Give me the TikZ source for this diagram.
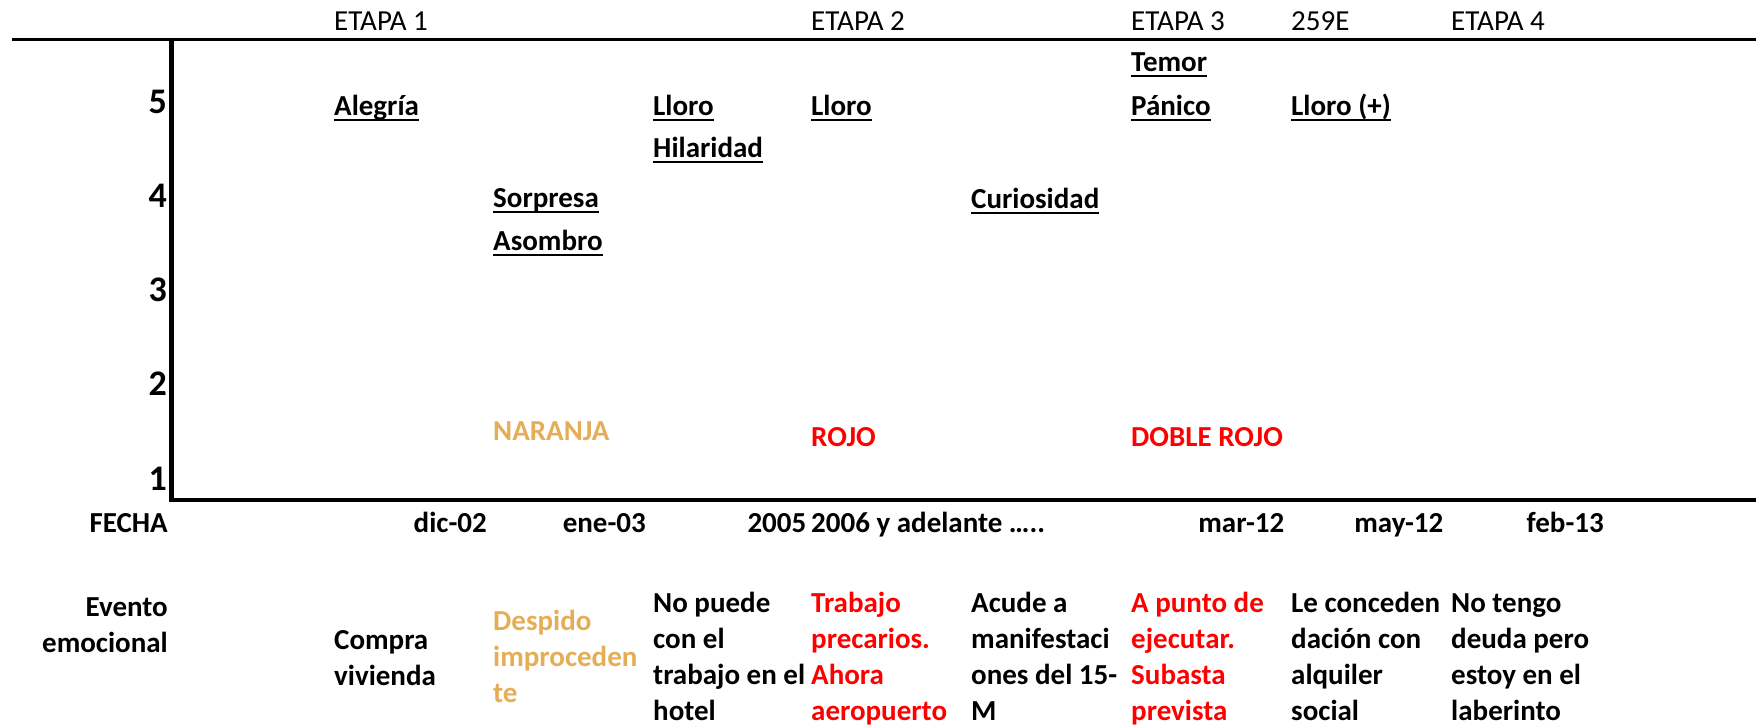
\documentclass[tikz,border=0pt]{standalone}
\usepackage{fontspec}
\setmainfont{Carlito}
\definecolor{naranja}{RGB}{229,173,86}
\definecolor{rojo}{RGB}{255,0,0}
\tikzset{
  celda/.style={inner sep=0pt, anchor=base west, align=left,
    font=\bfseries\fontsize{29}{35.7}\selectfont},
  fecha/.style={celda, anchor=base east},
  etapa/.style={inner sep=0pt, anchor=base west, font=\fontsize{29}{35}\selectfont},
  nivel/.style={inner sep=0pt, anchor=base east, font=\bfseries\fontsize{36}{40}\selectfont},
  subraya/.style={line width=2pt},
  eje/.style={line width=4.8pt},
}
% emocion subrayada: nombre, x, y, texto
\newcommand{\emocion}[4]{%
  \node[celda] (#1) at (#2,#3) {#4};
  \draw[subraya] ([yshift=-5pt]#1.base west) -- ([yshift=-5pt]#1.base east);}
\begin{document}
\begin{tikzpicture}[x=1pt,y=-1pt]
        \useasboundingbox (0,0) rectangle (1756,725);

        % ejes
        \draw[line width=2.5pt] (12,39.3) -- (1756,39.3);
        \draw[eje] (171.7,38) -- (171.7,500) -- (1756,500);

        % etapas
        \node[etapa] (e1) at (334,31) {ETAPA 1};
        \node[etapa] (e2) at (811,31) {ETAPA 2};
        \node[etapa] (e3) at (1131,31) {ETAPA 3};
        \node[etapa] (e259) at (1291,31) {259E};
        \node[etapa] (e4) at (1451,31) {ETAPA 4};

        % niveles
        \foreach \n [count=\i from 0] in {5,4,3,2,1}
          \node[nivel] (n\n) at (167,113.3+94.2*\i) {\n};

        % emociones
        \emocion{temor}{1131}{71}{Temor}
        \emocion{alegria}{334}{115}{Alegría}
        \emocion{lloroa}{653}{115}{Lloro}
        \emocion{llorob}{811}{115}{Lloro}
        \emocion{panico}{1131}{115}{Pánico}
        \emocion{lloroc}{1291}{115}{Lloro (+)}
        \emocion{hilaridad}{653}{157}{Hilaridad}
        \emocion{sorpresa}{493}{207}{Sorpresa}
        \emocion{curiosidad}{971}{208}{Curiosidad}
        \emocion{asombro}{493}{250}{Asombro}

        % colores
        \node[celda, text=naranja] (naranja) at (493,440) {NARANJA};
        \node[celda, text=rojo] (rojo) at (811,446) {ROJO};
        \node[celda, text=rojo] (doble) at (1131,446) {DOBLE ROJO};

        % fechas
        \node[fecha] (fecha) at (168,532.7) {FECHA};
        \node[fecha] (f1) at (487,532.7) {dic-02};
        \node[fecha] (f2) at (646,532.7) {ene-03};
        \node[fecha] (f3) at (806.5,532.7) {2005};
        \node[celda] (f4) at (811,532.7) {2006 y adelante …..};
        \node[fecha] (f6) at (1284.5,532.7) {mar-12};
        \node[fecha] (f7) at (1443.5,532.7) {may-12};
        \node[fecha] (f8) at (1604,532.7) {feb-13};

        % eventos (base = ultima linea)
        \node[celda, align=right, anchor=base east] (evento) at (168,652) {Evento\\emocional};
        \node[celda] (v1) at (334,685) {Compra\\vivienda};
        \node[celda, text=naranja] (v2) at (493,702) {Despido\\improceden\\te};
        \node[celda] (v3) at (653,720) {No puede\\con el\\trabajo en el\\hotel};
        \node[celda, text=rojo] (v4) at (811,720) {Trabajo\\precarios.\\Ahora\\aeropuerto};
        \node[celda] (v5) at (971,720) {Acude a\\manifestaci\\ones del 15-\\M};
        \node[celda, text=rojo] (v6) at (1131,720) {A punto de\\ejecutar.\\Subasta\\prevista};
        \node[celda] (v7) at (1291,720) {Le conceden\\dación con\\alquiler\\social};
        \node[celda] (v8) at (1451,720) {No tengo\\deuda pero\\estoy en el\\laberinto};
        \end{tikzpicture}
\end{document}
